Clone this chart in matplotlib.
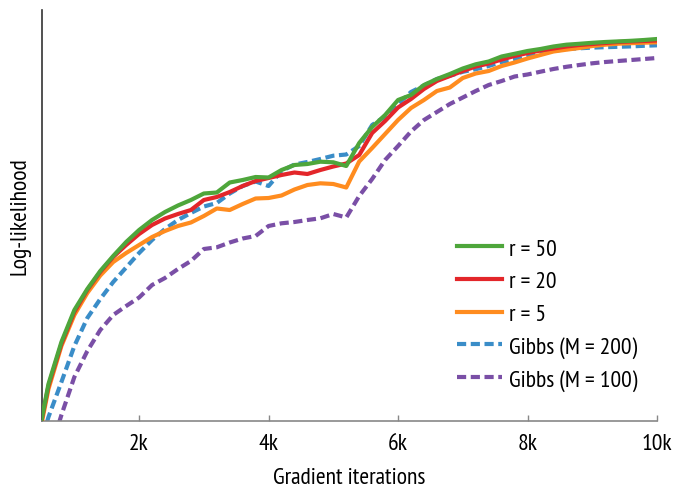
import matplotlib
matplotlib.use("Agg")
import matplotlib.pyplot as plt

plt.rcParams["font.family"] = ["PT Sans Narrow", "DejaVu Sans"]

iters = list(range(400, 10001, 200))

# log-likelihood (arbitrary offset/scale), one value every 200 iterations
r50 = [-30, 37, 79, 111, 132, 150, 165, 179, 191, 201, 209, 215.5, 221, 227.5, 228.5,
       238.5, 241, 244, 243.5, 251, 256, 257, 259.3, 258.7, 255, 278, 294, 306, 321,
       326, 336, 342, 347, 352.5, 356.7, 359.5, 364.5, 367.2, 370, 372, 374.5, 376.3,
       377.2, 378.2, 379, 379.6, 380.2, 381, 382]
r20 = [-30, 35, 77, 109, 131, 149, 164, 176, 187, 196, 202.5, 207, 211, 221, 224,
       229, 235, 240, 243, 246, 248.5, 247, 251, 254.5, 257.5, 266, 288, 300, 313.5,
       322, 332, 340, 345, 350, 354.5, 357.5, 361.5, 365, 368, 370.5, 372.5, 374.5,
       376, 377, 378, 379, 379.5, 380, 380.5]
r5 = [-33, 32, 75, 106, 128, 145.5, 159, 168, 176, 184, 190, 195, 198.5, 205, 212.5,
      211, 217, 222.5, 223, 225.5, 231.5, 236, 237.7, 237, 233.5, 259.5, 273, 287, 301,
      313, 321, 330, 333.5, 343, 347.5, 350, 355, 358.5, 362.5, 366, 369.5, 371.3,
      373, 375, 376.3, 377.3, 377.8, 378.3, 378.7]
gibbs200 = [-40, 4, 39, 75, 103, 122, 139, 153.5, 168, 181, 192, 201, 208, 214.5, 218,
            227.5, 235, 239.5, 235, 250, 256.5, 259, 262, 265.3, 266.5, 275, 296, 304.5,
            317, 329, 335.5, 342, 345.3, 349.2, 351.8, 355, 359, 361.5, 364.5, 368, 370,
            372, 372.7, 373.4, 373.8, 374.2, 374.6, 375.2, 375.7]
gibbs100 = [-78, -36, 6, 44, 70, 91, 106, 115, 123.5, 136, 143, 152, 160, 172, 173.7,
            178.5, 182.5, 185, 195, 197.7, 199, 201, 202.7, 207, 203.5, 225, 242, 261,
            275, 289.5, 301, 309, 317, 323.5, 330, 336, 340, 344.5, 346.5, 349.3, 352,
            354.2, 356, 357.7, 359, 360, 361, 362, 363]

tick_pos = [2000, 4000, 6000, 8000, 10000]
tick_lab = ["2k", "4k", "6k", "8k", "10k"]

fig = plt.figure(figsize=(6.75, 4.89), dpi=100)
ax = fig.add_axes([42 / 675, 1 - 422 / 489, 615 / 675, 411 / 489])

lw = 3.0
dash = (2.2, 1.1)
ax.plot(iters, r50, color="#4ea63b", lw=lw, label="r = 50", zorder=5)
ax.plot(iters, r20, color="#e3262a", lw=lw, label="r = 20", zorder=4)
ax.plot(iters, r5, color="#ff8c1f", lw=lw, label="r = 5", zorder=3)
ax.plot(iters, gibbs200, color="#3a8dc8", lw=lw, dashes=dash,
        label="Gibbs (M = 200)", zorder=2)
ax.plot(iters, gibbs100, color="#7a4fa6", lw=lw, dashes=dash,
        label="Gibbs (M = 100)", zorder=1)

ax.set_xlim(500, 10000)
ax.set_ylim(0, 411)

for s in ["top", "right"]:
    ax.spines[s].set_visible(False)
ax.spines["left"].set_color("#333333")
ax.spines["bottom"].set_color("#888888")
ax.spines["left"].set_linewidth(1.2)
ax.spines["bottom"].set_linewidth(1.2)

ax.set_yticks([])
ax.set_xticks(tick_pos)
ax.set_xticklabels(tick_lab)
ax.tick_params(axis="x", direction="in", length=4, width=1, color="#888888",
               labelsize=17, pad=9)

ax.set_xlabel("Gradient iterations", fontsize=17, labelpad=9)
ax.set_ylabel("Log-likelihood", fontsize=17, labelpad=8)

leg = ax.legend(loc="upper left", bbox_to_anchor=(457 / 675, 1 - 239 / 489),
                bbox_transform=fig.transFigure, frameon=False, fontsize=17,
                handlelength=1.9, handletextpad=0.3, labelspacing=0.47,
                borderpad=0, borderaxespad=0)

fig.savefig("out.png", dpi=100)
